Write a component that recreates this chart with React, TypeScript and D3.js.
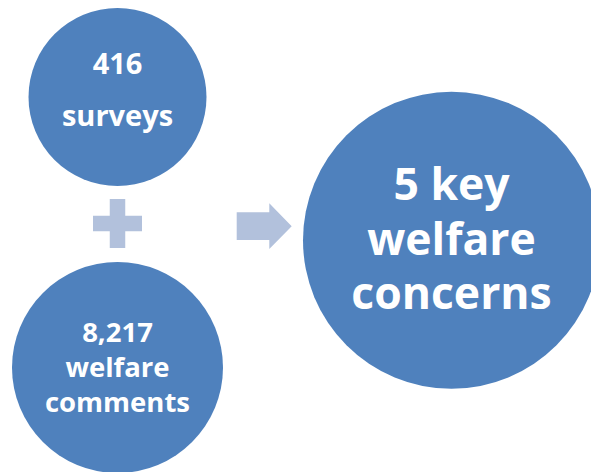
import React, { useEffect, useRef } from 'react';
import * as d3 from 'd3';

// Diagram content
const sourceLabels = [
  ['416', 'surveys'],
  ['8,217', 'welfare', 'comments'],
];
const resultLabel = ['5 key', 'welfare', 'concerns'];

const W = 591;
const H = 472;
const BLUE = '#4f81bd';
const LIGHT = '#b2c1dc';
const FONT = "'Open Sans', 'DejaVu Sans', sans-serif";

// layout: circles (cx, cy, r), text baselines, font size
const layout = [
  { cx: 117.5, cy: 97, r: 89, baselines: [73.5, 126], size: 29 },
  { cx: 117.5, cy: 367.5, r: 105.5, baselines: [341.5, 376.5, 411.5], size: 27.5 },
];
const resultLayout = { cx: 451.5, cy: 240.3, r: 148.5, baselines: [199.5, 255, 308.5], size: 44.5 };

const App: React.FC = () => {
  const svgRef = useRef<SVGSVGElement>(null);

  useEffect(() => {
    if (!svgRef.current) return;
    const svg = d3.select(svgRef.current);
    svg.selectAll('*').remove();

    const drawNode = (lines: string[], l: typeof resultLayout) => {
      const g = svg.append('g');
      g.append('circle')
        .attr('cx', l.cx)
        .attr('cy', l.cy)
        .attr('r', l.r)
        .attr('fill', BLUE);
      g.selectAll('text')
        .data(lines)
        .enter()
        .append('text')
        .attr('x', l.cx)
        .attr('y', (_, i) => l.baselines[i])
        .attr('text-anchor', 'middle')
        .attr('fill', '#fff')
        .attr('font-family', FONT)
        .attr('font-weight', 700)
        .attr('font-size', l.size)
        .text(d => d);
    };

    sourceLabels.forEach((lines, i) => drawNode(lines, layout[i]));
    drawNode(resultLabel, resultLayout);

    // plus sign between sources
    const px = 117.5, py = 223.5, arm = 24.5, t = 7.75;
    const plus = d3.path();
    plus.moveTo(px - t, py - arm);
    plus.lineTo(px + t, py - arm);
    plus.lineTo(px + t, py - t);
    plus.lineTo(px + arm, py - t);
    plus.lineTo(px + arm, py + t);
    plus.lineTo(px + t, py + t);
    plus.lineTo(px + t, py + arm);
    plus.lineTo(px - t, py + arm);
    plus.lineTo(px - t, py + t);
    plus.lineTo(px - arm, py + t);
    plus.lineTo(px - arm, py - t);
    plus.lineTo(px - t, py - t);
    plus.closePath();
    svg.append('path').attr('d', plus.toString()).attr('fill', LIGHT);

    // arrow to result
    const ax0 = 236.7, ax1 = 269.3, tip = 291.7, ay = 226.2;
    const arrow = d3.path();
    arrow.moveTo(ax0, 212.3);
    arrow.lineTo(ax1, 212.3);
    arrow.lineTo(ax1, 203.3);
    arrow.lineTo(tip, ay);
    arrow.lineTo(ax1, 249);
    arrow.lineTo(ax1, 240);
    arrow.lineTo(ax0, 240);
    arrow.closePath();
    svg.append('path').attr('d', arrow.toString()).attr('fill', LIGHT);
  }, []);

  return (
    <svg
      ref={svgRef}
      width={W}
      height={H}
      style={{ position: 'fixed', left: 0, top: 0, background: '#fff' }}
    />
  );
};

export default App;
